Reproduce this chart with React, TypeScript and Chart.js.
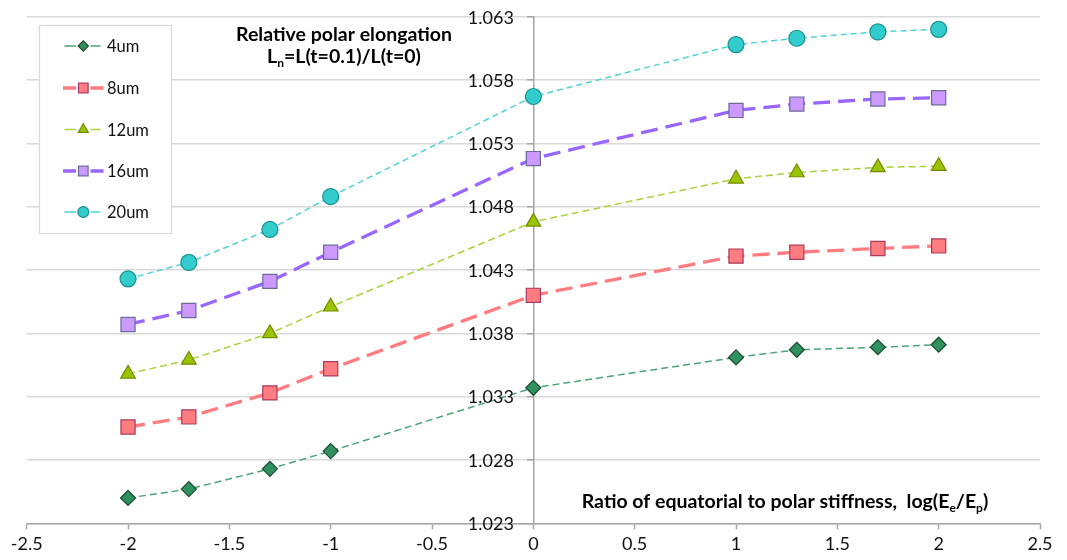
import React, { useEffect, useRef } from 'react';
import { Chart, registerables } from 'chart.js';

Chart.register(...registerables);

// log(Ee/Ep) positions shared by all series
const xValues = [-2, -1.7, -1.3, -1, 0, 1, 1.3, 1.7, 2];

// Relative polar elongation Ln for each thickness
const series4um = [1.0250, 1.0257, 1.0273, 1.0287, 1.0337, 1.0361, 1.0367, 1.0369, 1.0371];
const series8um = [1.0306, 1.0314, 1.0333, 1.0352, 1.0410, 1.0441, 1.0444, 1.0447, 1.0449];
const series12um = [1.0348, 1.0359, 1.0380, 1.0401, 1.0468, 1.0502, 1.0507, 1.0511, 1.0512];
const series16um = [1.0387, 1.0398, 1.0421, 1.0444, 1.0518, 1.0556, 1.0561, 1.0565, 1.0566];
const series20um = [1.0423, 1.0436, 1.0462, 1.0488, 1.0567, 1.0608, 1.0613, 1.0618, 1.0620];

const seriesNames = ['4um', '8um', '12um', '16um', '20um'];

const yTicks = [1.023, 1.028, 1.033, 1.038, 1.043, 1.048, 1.053, 1.058, 1.063];
const xTickStep = 0.5;
const xMin = -2.5;
const xMax = 2.5;

const FONT = 'Lato, "Open Sans", sans-serif';

type Style = {
  line: string;
  fill: string;
  border: string;
  width: number;
  dash: number[];
  point: 'rectRot' | 'rect' | 'triangle' | 'circle';
  radius: number;
};

const styles: Style[] = [
  { line: '#4aa478', fill: '#2f9160', border: '#1d4a2c', width: 1.5, dash: [7, 4], point: 'rectRot', radius: 7.5 },
  { line: '#ff7c80', fill: '#ff7c80', border: '#a93a5c', width: 3.3, dash: [17, 8], point: 'rect', radius: 10 },
  { line: '#a9d33a', fill: '#99c400', border: '#788a00', width: 1.5, dash: [7, 4], point: 'triangle', radius: 8.5 },
  { line: '#9966ff', fill: '#cc99ff', border: '#6b6b99', width: 3.3, dash: [17, 8], point: 'rect', radius: 10 },
  { line: '#4fd3d3', fill: '#33cccc', border: '#16908f', width: 1.5, dash: [6, 4], point: 'circle', radius: 8 },
];

const allSeries = [series4um, series8um, series12um, series16um, series20um];

function drawMarker(ctx: CanvasRenderingContext2D, s: Style, x: number, y: number, r: number) {
  ctx.save();
  ctx.setLineDash([]);
  ctx.fillStyle = s.fill;
  ctx.strokeStyle = s.border;
  ctx.lineWidth = 1.2;
  ctx.beginPath();
  if (s.point === 'rectRot') {
    ctx.moveTo(x - r, y);
    ctx.lineTo(x, y - r);
    ctx.lineTo(x + r, y);
    ctx.lineTo(x, y + r);
    ctx.closePath();
  } else if (s.point === 'rect') {
    const h = r * Math.SQRT1_2;
    ctx.rect(x - h, y - h, 2 * h, 2 * h);
  } else if (s.point === 'triangle') {
    for (let i = 0; i < 3; i++) {
      const a = (i * 2 * Math.PI) / 3;
      const px = x + Math.sin(a) * r;
      const py = y - Math.cos(a) * r;
      if (i === 0) ctx.moveTo(px, py);
      else ctx.lineTo(px, py);
    }
    ctx.closePath();
  } else {
    ctx.arc(x, y, r, 0, Math.PI * 2);
  }
  ctx.fill();
  ctx.stroke();
  ctx.restore();
}

type Part = { t: string; sub?: boolean };

function drawRich(ctx: CanvasRenderingContext2D, parts: Part[], x: number, baseline: number, size: number) {
  const mainFont = `bold ${size}px ${FONT}`;
  const subFont = `bold ${Math.round(size * 0.62)}px ${FONT}`;
  let total = 0;
  for (const p of parts) {
    ctx.font = p.sub ? subFont : mainFont;
    total += ctx.measureText(p.t).width;
  }
  let cx = x - total / 2;
  ctx.textBaseline = 'alphabetic';
  ctx.textAlign = 'left';
  ctx.fillStyle = '#000000';
  for (const p of parts) {
    ctx.font = p.sub ? subFont : mainFont;
    ctx.fillText(p.t, cx, baseline + (p.sub ? size * 0.25 : 0));
    cx += ctx.measureText(p.t).width;
  }
}

const annotations = {
  id: 'annotations',
  afterDraw(chart: Chart) {
    const ctx = chart.ctx;
    const xs = chart.scales.x;
    const ys = chart.scales.y;
    ctx.save();

    // y tick labels, set to the left of the centred axis
    const axisX = xs.getPixelForValue(0);
    ctx.font = `18px ${FONT}`;
    ctx.fillStyle = '#111111';
    ctx.textAlign = 'right';
    ctx.textBaseline = 'middle';
    yTicks.forEach((v) => {
      ctx.fillText(v.toFixed(3), axisX - 19.5, ys.getPixelForValue(v) + 1);
    });

    // plot title
    drawRich(ctx, [{ t: 'Relative polar elongation' }], 344, 41, 19.5);
    drawRich(ctx, [{ t: 'L' }, { t: 'n', sub: true }, { t: '=L(t=0.1)/L(t=0)' }], 344, 62.5, 19.5);

    // x-axis title
    drawRich(
      ctx,
      [
        { t: 'Ratio of equatorial to polar stiffness,  log(E' },
        { t: 'e', sub: true },
        { t: '/E' },
        { t: 'p', sub: true },
        { t: ')' },
      ],
      785,
      507.5,
      19.5
    );

    // legend box
    const bx = 39.5, by = 25.5, bw = 132, bh = 208;
    ctx.fillStyle = '#ffffff';
    ctx.fillRect(bx, by, bw, bh);
    ctx.strokeStyle = '#d9d9d9';
    ctx.lineWidth = 1.2;
    ctx.setLineDash([]);
    ctx.strokeRect(bx, by, bw, bh);

    const rowY = [46, 88, 129.5, 171, 212];
    seriesNames.forEach((name, i) => {
      const s = styles[i];
      const y = rowY[i];
      ctx.strokeStyle = s.line;
      ctx.lineWidth = s.width;
      ctx.setLineDash([]);
      ctx.beginPath();
      const thick = s.width > 2;
      ctx.moveTo(thick ? 63 : 64.5, y);
      ctx.lineTo(76, y);
      ctx.moveTo(90.5, y);
      ctx.lineTo(thick ? 103.5 : 100.5, y);
      ctx.stroke();
      drawMarker(ctx, s, 83.3, y, s.radius * 0.68);
      ctx.font = `16.5px ${FONT}`;
      ctx.fillStyle = '#111111';
      ctx.textAlign = 'left';
      ctx.textBaseline = 'middle';
      ctx.fillText(name, 107, y + 1);
    });

    ctx.restore();
  },
};

export default function App() {
  const canvasRef = useRef<HTMLCanvasElement | null>(null);

  useEffect(() => {
    const canvas = canvasRef.current;
    if (!canvas) return;

    const datasets = allSeries.map((vals, i) => {
      const s = styles[i];
      return {
        label: seriesNames[i],
        data: xValues.map((x, j) => ({ x, y: vals[j] })),
        borderColor: s.line,
        borderWidth: s.width,
        borderDash: s.dash,
        backgroundColor: s.fill,
        pointStyle: s.point,
        pointRadius: s.radius,
        pointHoverRadius: s.radius,
        pointBackgroundColor: s.fill,
        pointBorderColor: s.border,
        pointBorderWidth: 1.2,
        tension: 0,
        fill: false,
        clip: false as const,
        order: 5 - i,
      };
    });

    const chart = new Chart(canvas, {
      type: 'line',
      data: { datasets },
      options: {
        animation: false,
        responsive: false,
        events: [],
        layout: { padding: { left: 26.7, right: 27, top: 16.7, bottom: 0 } },
        plugins: {
          legend: { display: false },
          tooltip: { enabled: false },
          title: { display: false },
        },
        scales: {
          x: {
            type: 'linear',
            position: 'bottom',
            min: xMin,
            max: xMax,
            ticks: {
              stepSize: xTickStep,
              color: '#111111',
              font: { family: FONT, size: 18 },
              padding: 4,
              maxRotation: 0,
              callback: (v: number | string) => String(Number(v)),
            },
            grid: {
              drawOnChartArea: false,
              drawTicks: true,
              tickLength: 6,
              tickColor: '#a6a6a6',
              tickWidth: 1.5,
            },
            border: { display: true, color: '#a6a6a6', width: 1.5 },
            afterFit: (scale: any) => {
              scale.height = 36.7;
            },
          },
          y: {
            type: 'linear',
            position: { x: 0 },
            min: yTicks[0],
            max: yTicks[yTicks.length - 1],
            afterBuildTicks: (scale: any) => {
              scale.ticks = yTicks.map((v) => ({ value: v }));
            },
            ticks: { display: false },
            grid: {
              color: '#d9d9d9',
              lineWidth: 1.5,
              drawTicks: true,
              tickLength: 6,
              tickColor: '#a6a6a6',
              tickWidth: 1.5,
            },
            border: { display: true, color: '#a6a6a6', width: 1.5 },
          },
        },
      },
      plugins: [annotations],
    } as any);

    return () => chart.destroy();
  }, []);

  return (
    <div style={{ position: 'fixed', left: 0, top: 0, width: 1067, height: 560, background: '#ffffff' }}>
      <canvas ref={canvasRef} width={1067} height={560} style={{ display: 'block' }} />
    </div>
  );
}
